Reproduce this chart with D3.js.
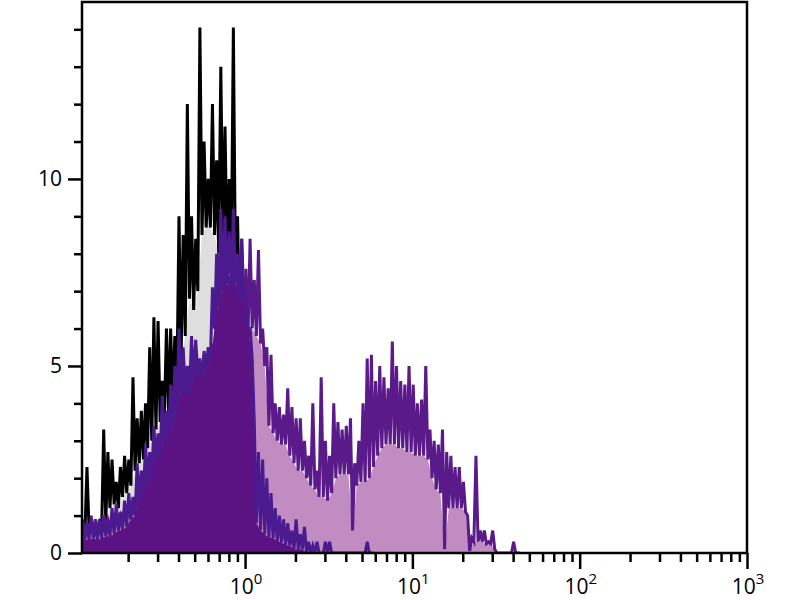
<!DOCTYPE html>
<html>
<head>
<meta charset="utf-8">
<script src="https://cdn.jsdelivr.net/npm/d3@7"></script>
<style>
  body { margin: 0; background: #fff; }
  svg { display: block; }
  text { font-family: "Open Sans", sans-serif; fill: #000; }
</style>
</head>
<body>
<svg width="800" height="600"></svg>
<script>
// histogram channels: log10 of first bin, bin width in decades
const binStart = -0.97;
const binStep = 0.025;

// control (grey fill, black line): spike tops and floor of each bin
const ctrlPeak = [0.8, 2.3, 0.9, 0.8, 0.9, 3.3, 2.7, 2.5, 1.9, 2.3,
  2.6, 2.5, 4.7, 3.6, 3.8, 4.0, 5.5, 6.3, 6.2, 4.6,
  6.0, 6.0, 5.8, 9.0, 8.5, 12.0, 9.0, 8.4, 14.05, 11.0,
  10.0, 12.0, 10.5, 13.0, 11.4, 10.0, 14.05, 9.0, 8.0, 5.0,
  3.5, 2.0, 1.0, 0.5];
const ctrlFloor = [0.5, 0.6, 0.6, 0.5, 0.6, 0.8, 1.2, 1.3, 1.2, 1.5,
  1.6, 1.8, 2.2, 2.4, 2.5, 2.8, 3.0, 3.3, 3.5, 3.6,
  3.8, 4.0, 4.5, 5.2, 5.8, 6.8, 6.5, 7.0, 8.5, 8.7,
  8.7, 8.5, 8.0, 8.3, 8.0, 7.8, 7.5, 6.0, 4.5, 3.0,
  1.5, 0.6, 0.3, 0];

// stained sample, light purple fill
const pinkPeak = [0.7, 0.8, 0.7, 0.9, 0.8, 1.0, 0.9, 1.0, 1.1, 1.0,
  1.2, 1.3, 1.4, 1.8, 1.9, 2.2, 2.4, 2.8, 3.0, 3.4,
  3.6, 4.0, 4.4, 4.6, 4.8, 5.0, 5.2, 5.4, 5.0, 5.3,
  5.4, 5.6, 6.8, 7.6, 7.8, 7.4, 8.0, 7.2, 8.4, 7.6,
  8.4, 7.3, 8.1, 6.0, 5.5, 5.3, 4.0, 3.9, 3.7, 4.4,
  3.9, 3.6, 3.6, 3.0, 2.6, 4.0, 2.2, 4.7, 3.0, 2.6,
  4.0, 3.5, 3.3, 3.4, 3.6, 2.4, 3.0, 4.0, 5.2, 5.3,
  4.6, 5.0, 4.7, 4.4, 5.65, 5.0, 4.6, 4.5, 5.0, 4.5,
  4.0, 4.1, 5.0, 3.3, 3.0, 2.9, 3.3, 2.7, 2.6, 2.3,
  2.3, 1.9, 1.0, 0.4, 2.6, 0.6, 0.6, 0.3, 0.6, 0,
  0, 0, 0, 0.3, 0];
const pinkFloor = [0.5, 0.5, 0.6, 0.6, 0.6, 0.7, 0.7, 0.8, 0.8, 0.8,
  0.9, 0.9, 1.0, 1.1, 1.2, 1.4, 1.6, 1.8, 2.0, 2.3,
  2.6, 2.8, 3.0, 3.2, 3.4, 3.6, 3.8, 4.0, 4.0, 4.2,
  4.3, 4.5, 4.8, 5.0, 5.2, 5.3, 5.5, 5.6, 5.8, 5.8,
  6.0, 5.8, 5.6, 5.0, 3.4, 3.2, 3.0, 2.9, 2.9, 2.6,
  2.4, 2.2, 2.2, 2.0, 1.8, 1.7, 1.5, 1.5, 1.4, 1.6,
  2.0, 2.1, 2.1, 2.1, 0.6, 1.8, 1.9, 1.9, 2.0, 2.3,
  2.6, 2.8, 2.9, 2.9, 2.9, 2.8, 2.8, 2.7, 2.7, 2.6,
  2.6, 2.6, 2.5, 2.0, 1.7, 1.6, 0.1, 1.2, 1.2, 1.2,
  1.2, 1.1, 0.05, 0.3, 0.3, 0.3, 0.25, 0.25, 0.1, 0,
  0, 0, 0, 0, 0];

// stained sample, dark purple fill
const darkPeak = [0.9, 0.8, 1.0, 0.7, 0.9, 1.0, 0.8, 1.2, 1.3, 1.1,
  1.4, 1.6, 1.5, 2.4, 2.2, 2.9, 2.7, 3.4, 3.2, 4.2,
  3.8, 4.5, 5.0, 6.0, 5.5, 5.0, 5.8, 5.7, 5.2, 5.4,
  5.5, 7.1, 8.0, 9.2, 9.0, 8.6, 9.2, 8.0, 8.4, 7.0,
  6.0, 3.5, 2.7, 2.5, 2.0, 1.6, 1.2, 1.0, 0.9, 0.8,
  0.6, 0.9, 0.5, 0.7, 0.3, 0.2, 0.3, 0, 0.3, 0.3,
  0, 0, 0, 0, 0, 0, 0, 0, 0.3, 0];
const darkFloor = [0.35, 0.35, 0.4, 0.35, 0.4, 0.45, 0.45, 0.5, 0.6, 0.6,
  0.7, 0.9, 1.0, 1.4, 1.5, 1.9, 2.0, 2.5, 2.5, 3.0,
  3.0, 3.4, 3.8, 4.3, 4.3, 4.2, 4.6, 4.8, 4.6, 4.9,
  5.1, 6.0, 6.6, 7.0, 7.2, 7.0, 7.2, 6.8, 6.8, 6.0,
  5.2, 0.8, 0.6, 0.5, 0.4, 0.4, 0.3, 0.3, 0.2, 0.2,
  0.1, 0.1, 0.1, 0, 0, 0, 0, 0, 0, 0,
  0, 0, 0, 0, 0, 0, 0, 0, 0, 0];

// ticks
const yMajor = [0, 5, 10];
const yMinor = [1, 2, 3, 4, 6, 7, 8, 9, 11, 12, 13, 14];
const xMajor = [1, 10, 100, 1000];
const xExponent = ["0", "1", "2", "3"];
const xMinorSteps = [2, 3, 4, 5, 6, 7, 8, 9];
const xDecades = [0.1, 1, 10, 100];

function createHistViz() {
  let svg = d3.select("svg");

  let xScale = d3.scaleLog().domain([0.106, 1000]).range([82, 747]);
  let yScale = d3.scaleLinear().domain([0, 14.73]).range([553, 2]);

  svg.append("clipPath").attr("id", "plotClip")
    .append("rect")
    .attr("x", 82).attr("y", 2)
    .attr("width", 665).attr("height", 551);

  let plot = svg.append("g").attr("clip-path", "url(#plotClip)");

  // one overlay: fill up to the floor, zigzag line through the spikes
  function drawSeries(peak, floor, fillColor, lineColor) {
    let linePts = [], floorPts = [];
    peak.forEach((p, i) => {
      let l = binStart + i * binStep;
      linePts.push([xScale(Math.pow(10, l)), yScale(p)]);
      linePts.push([xScale(Math.pow(10, l + binStep / 2)), yScale(floor[i])]);
      if (i == 0) floorPts.push([xScale(Math.pow(10, l)), yScale(floor[i])]);
      floorPts.push([xScale(Math.pow(10, l + binStep / 2)), yScale(floor[i])]);
    });
    floorPts.push([floorPts[floorPts.length - 1][0], yScale(0)]);

    plot.append("path")
      .attr("d", d3.area().x(d => d[0]).y0(yScale(0)).y1(d => d[1])(floorPts))
      .attr("fill", fillColor);

    plot.append("path")
      .attr("d", d3.line()(linePts))
      .attr("fill", "none")
      .attr("stroke", lineColor)
      .attr("stroke-width", 3);
  }

  drawSeries(ctrlPeak, ctrlFloor, "#dedede", "#000000");
  drawSeries(pinkPeak, pinkFloor, "#c18cc2", "#5a1a8a");
  drawSeries(darkPeak, darkFloor, "#5b1283", "#4a1a8e");

  // y axis
  let yAxisMajor = d3.axisLeft(yScale).tickValues(yMajor)
    .tickSize(14).tickPadding(6);
  let yAxisG = svg.append("g").attr("transform", "translate(82, 0)").call(yAxisMajor);
  yAxisG.selectAll("text").style("font-size", "21px").attr("fill", "#000");

  let yAxisMinor = d3.axisLeft(yScale).tickValues(yMinor)
    .tickSize(8).tickFormat("");
  let yMinorG = svg.append("g").attr("transform", "translate(82, 0)").call(yAxisMinor);

  // x axis, log decades
  let xMinor = [];
  xDecades.forEach(d => xMinorSteps.forEach(s => {
    let v = d * s;
    if (v > 0.106 && v < 1000) xMinor.push(v);
  }));

  let xAxisMajor = d3.axisBottom(xScale).tickValues(xMajor)
    .tickSize(16).tickFormat("");
  let xAxisG = svg.append("g").attr("transform", "translate(0, 553)").call(xAxisMajor);

  let xAxisMinor = d3.axisBottom(xScale).tickValues(xMinor)
    .tickSize(9).tickFormat("");
  let xMinorG = svg.append("g").attr("transform", "translate(0, 553)").call(xAxisMinor);

  [yAxisG, yMinorG, xAxisG, xMinorG].forEach(g => {
    g.select(".domain").remove();
    g.selectAll("line").attr("stroke", "#000").attr("stroke-width", 2.5);
  });

  // 10^n labels
  let labels = svg.append("g").selectAll("text")
    .data(xMajor)
    .join("text")
    .attr("x", d => xScale(d) + 1)
    .attr("y", 594)
    .attr("text-anchor", "middle")
    .style("font-size", "21px");
  labels.append("tspan").text("10");
  labels.append("tspan")
    .attr("dy", -10)
    .style("font-size", "15px")
    .text((d, i) => xExponent[i]);

  // frame
  svg.append("rect")
    .attr("x", 82).attr("y", 2)
    .attr("width", 665).attr("height", 551)
    .attr("fill", "none")
    .attr("stroke", "#000")
    .attr("stroke-width", 2.5);
}

createHistViz();
</script>
</body>
</html>
